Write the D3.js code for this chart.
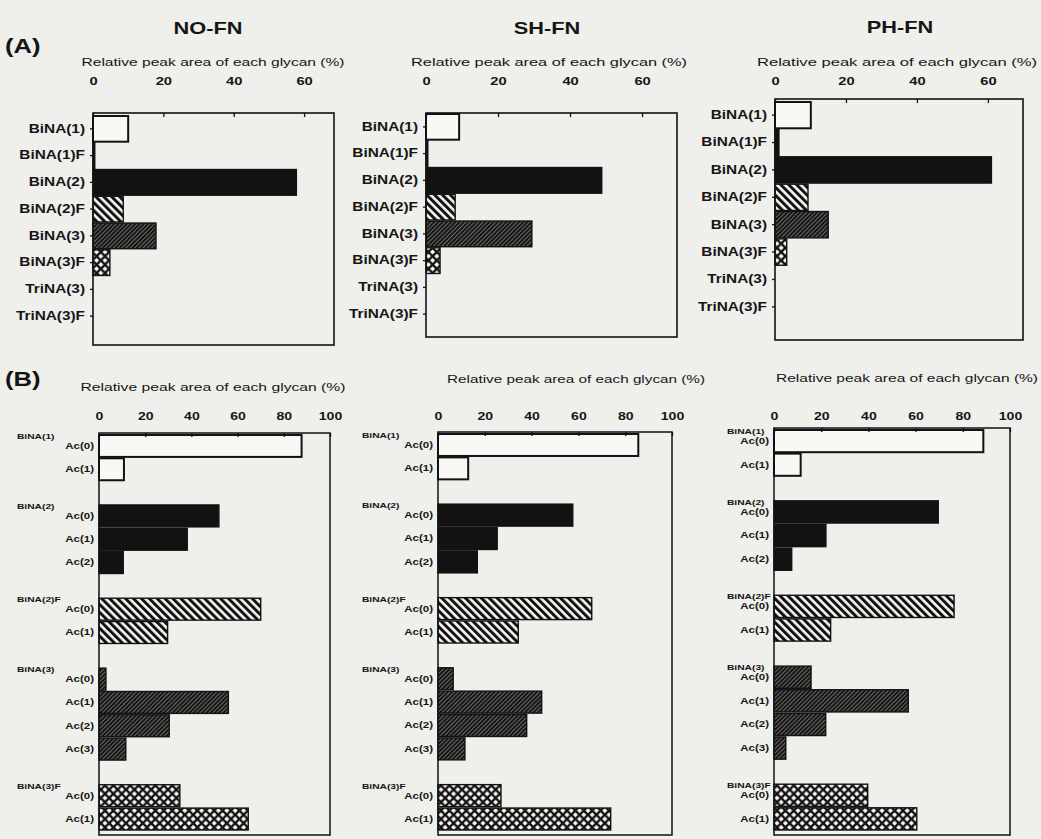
<!DOCTYPE html>
<html>
<head>
<meta charset="utf-8">
<script src="https://cdn.jsdelivr.net/npm/d3@7"></script>
<style>
  html, body { margin: 0; padding: 0; background: #efefec; }
  svg { display: block; }
  text { font-family: "Liberation Sans", Arial, Helvetica, sans-serif; fill: #151515; }
</style>
</head>
<body>
<svg id="fig" width="1041" height="839"></svg>
<script>
// ---------------- data ----------------
const sites = ["NO-FN", "SH-FN", "PH-FN"];

// (A) relative peak area of each N-glycan (%)
const glycansA = ["BiNA(1)", "BiNA(1)F", "BiNA(2)", "BiNA(2)F", "BiNA(3)", "BiNA(3)F", "TriNA(3)", "TriNA(3)F"];
const areaNO = [10.0, 0.5, 57.8, 8.6, 17.9, 4.8, 0, 0];
const areaSH = [9.2, 0.5, 48.8, 8.1, 29.4, 3.9, 0, 0];
const areaPH = [10.1, 1.1, 61.0, 9.3, 15.0, 3.3, 0, 0];
const ticksA = [0, 20, 40, 60];

// (B) acetylation distribution within each glycan (%)
const groupsB = ["BiNA(1)", "BiNA(2)", "BiNA(2)F", "BiNA(3)", "BiNA(3)F"];
const acetylB = [
  ["Ac(0)", "Ac(1)"],
  ["Ac(0)", "Ac(1)", "Ac(2)"],
  ["Ac(0)", "Ac(1)"],
  ["Ac(0)", "Ac(1)", "Ac(2)", "Ac(3)"],
  ["Ac(0)", "Ac(1)"]
];
const acNO = [[87.7, 10.8], [51.9, 38.2, 10.5], [70.0, 29.7], [3.0, 56.0, 30.4, 11.6], [35.0, 64.6]];
const acSH = [[85.6, 12.9], [57.6, 25.3, 16.8], [65.7, 34.3], [6.5, 44.3, 37.9, 11.5], [26.9, 73.8]];
const acPH = [[88.7, 11.3], [69.6, 22.0, 7.5], [76.3, 24.0], [15.7, 56.9, 21.9, 5.0], [39.7, 60.5]];
const ticksB = [0, 20, 40, 60, 80, 100];

const axisTitle = "Relative peak area of each glycan (%)";

// ---------------- layout & style ----------------
const SX = 1.28; // horizontal stretch applied to glyphs
const INK = "#121212";

const layoutA = [
  { x0: 93,  x1: 334,  top: 113, bottom: 345, y0: 116, y1: 329, max: 68.5, titleCx: 213, titleW: 263, headX: 208, headY: 34 },
  { x0: 426, x1: 677,  top: 113, bottom: 337, y0: 114, y1: 327, max: 69.7, titleCx: 549, titleW: 276, headX: 547, headY: 34 },
  { x0: 775, x1: 1023, top: 99,  bottom: 340, y0: 102, y1: 320, max: 69.9, titleCx: 897, titleW: 280, headX: 900, headY: 33 }
];
const layoutB = [
  { x0: 99,  x1: 330,  top: 433, bottom: 835, y0: 435, y1: 830, titleCx: 213, titleW: 265, titleY: 391, groupDx: -82 },
  { x0: 438, x1: 672,  top: 432, bottom: 835, y0: 434, y1: 830, titleCx: 576, titleW: 258, titleY: 383, groupDx: -76 },
  { x0: 774, x1: 1010, top: 428, bottom: 835, y0: 430, y1: 830, titleCx: 907, titleW: 262, titleY: 382, groupDx: -47 }
];

const fillOf = {
  "BiNA(1)": "#f8f8f5",
  "BiNA(1)F": INK,
  "BiNA(2)": INK,
  "BiNA(2)F": "url(#stripes)",
  "BiNA(3)": "url(#hatch)",
  "BiNA(3)F": "url(#cross)",
  "TriNA(3)": "url(#cross)",
  "TriNA(3)F": INK
};

const svg = d3.select("#fig");
svg.append("rect").attr("width", 1041).attr("height", 839).attr("fill", "#efefec");

// ---------------- fill patterns ----------------
const defs = svg.append("defs");
// wide "\" stripes
const pStr = defs.append("pattern").attr("id", "stripes").attr("patternUnits", "userSpaceOnUse")
  .attr("width", 5.6).attr("height", 5.6).attr("patternTransform", "rotate(-45)");
pStr.append("rect").attr("width", 5.6).attr("height", 5.6).attr("fill", "#f8f8f5");
pStr.append("rect").attr("width", 3.0).attr("height", 5.6).attr("fill", INK);
// dense dark "/" hatch
const pHat = defs.append("pattern").attr("id", "hatch").attr("patternUnits", "userSpaceOnUse")
  .attr("width", 3.0).attr("height", 3.0).attr("patternTransform", "rotate(45)");
pHat.append("rect").attr("width", 3.0).attr("height", 3.0).attr("fill", "#161616");
pHat.append("rect").attr("width", 0.7).attr("height", 3.0).attr("fill", "#8c8c88");
// diamond cross-hatch
const CP = 8.4;
const pCr = defs.append("pattern").attr("id", "cross").attr("patternUnits", "userSpaceOnUse")
  .attr("width", CP).attr("height", CP);
pCr.append("rect").attr("width", CP).attr("height", CP).attr("fill", "#f8f8f5");
pCr.append("path").attr("d", `M-1,-1L${CP + 1},${CP + 1}M${CP + 1},-1L-1,${CP + 1}`)
  .attr("stroke", INK).attr("stroke-width", 2.4).attr("fill", "none");

// ---------------- helpers ----------------
function stretch(sel) {
  sel.each(function () {
    const t = d3.select(this);
    const x = +(t.attr("x") || 0);
    t.attr("transform", `translate(${x},0) scale(${SX},1) translate(${-x},0)`);
  });
}
function plainText(g, x, y, str, size, weight, anchor) {
  const t = g.append("text").attr("x", x).attr("y", y).attr("font-size", size)
    .attr("font-weight", weight || "normal").attr("text-anchor", anchor || "start").text(str);
  stretch(t);
  return t;
}
function fitText(g, cx, y, str, size, width) {
  return g.append("text").attr("x", cx).attr("y", y).attr("font-size", size)
    .attr("text-anchor", "middle").attr("textLength", width)
    .attr("lengthAdjust", "spacingAndGlyphs").text(str);
}
function styleAxis(ax, size, weight) {
  ax.attr("font-size", null).attr("font-family", null);
  ax.select(".domain").remove();
  ax.selectAll("line").attr("stroke", INK).attr("stroke-width", 1.3);
  ax.selectAll("text").attr("font-size", size).attr("font-weight", weight || "normal").attr("fill", "#151515");
  stretch(ax.selectAll("text"));
}

// ---------------- panel (A) ----------------
plainText(svg, 5, 53, "(A)", 20, "bold");

function drawA(L, site, values) {
  const g = svg.append("g");
  const x = d3.scaleLinear().domain([0, L.max]).range([L.x0, L.x1]);
  const y = d3.scaleBand().domain(glycansA).range([L.y0, L.y1]).paddingInner(0.04);

  plainText(g, L.headX, L.headY, site, 17, "bold", "middle");
  fitText(g, L.titleCx, 66, axisTitle, 11.5, L.titleW);

  const rows = glycansA.map((k, i) => ({ k, v: values[i] }));
  g.selectAll("rect.bar").data(rows).join("rect").attr("class", "bar")
    .attr("x", x(0)).attr("y", d => y(d.k))
    .attr("width", d => x(d.v) - x(0)).attr("height", y.bandwidth())
    .attr("fill", d => fillOf[d.k])
    .attr("stroke", d => d.v > 0 ? INK : "none")
    .attr("stroke-width", d => d.k === "BiNA(1)" ? 2 : 1.4);

  g.append("rect").attr("x", L.x0).attr("y", L.top)
    .attr("width", L.x1 - L.x0).attr("height", L.bottom - L.top)
    .attr("fill", "none").attr("stroke", INK).attr("stroke-width", 1.6);

  const ax = g.append("g").attr("transform", `translate(0,${L.top})`)
    .call(d3.axisTop(x).tickValues(ticksA).tickSizeInner(-4).tickSizeOuter(0).tickPadding(L.top - 85));
  styleAxis(ax, 11.5, "bold");

  const ay = g.append("g").attr("transform", `translate(${L.x0},0)`)
    .call(d3.axisLeft(y).tickSize(3).tickPadding(5));
  styleAxis(ay, 12, "bold");
}
drawA(layoutA[0], sites[0], areaNO);
drawA(layoutA[1], sites[1], areaSH);
drawA(layoutA[2], sites[2], areaPH);

// ---------------- panel (B) ----------------
plainText(svg, 5, 386, "(B)", 20, "bold");

// row keys: one per glycan/acetylation pair, with a blank row between glycans
const rowKeys = [];
groupsB.forEach((gName, gi) => {
  acetylB[gi].forEach(a => rowKeys.push(gName + "|" + a));
  if (gi < groupsB.length - 1) rowKeys.push("gap" + gi);
});

function drawB(L, values) {
  const g = svg.append("g");
  const x = d3.scaleLinear().domain([0, 100]).range([L.x0, L.x1]);
  const y = d3.scaleBand().domain(rowKeys).range([L.y0, L.y1]).paddingInner(0.06);

  fitText(g, L.titleCx, L.titleY, axisTitle, 11.5, L.titleW);

  const rows = [];
  groupsB.forEach((gName, gi) => acetylB[gi].forEach((a, ai) =>
    rows.push({ key: gName + "|" + a, grp: gName, v: values[gi][ai] })));

  g.selectAll("rect.bar").data(rows).join("rect").attr("class", "bar")
    .attr("x", x(0)).attr("y", d => y(d.key))
    .attr("width", d => x(d.v) - x(0)).attr("height", y.bandwidth())
    .attr("fill", d => fillOf[d.grp])
    .attr("stroke", INK)
    .attr("stroke-width", d => d.grp === "BiNA(1)" ? 2 : 1.4);

  g.append("rect").attr("x", L.x0).attr("y", L.top)
    .attr("width", L.x1 - L.x0).attr("height", L.bottom - L.top)
    .attr("fill", "none").attr("stroke", INK).attr("stroke-width", 1.5);

  const ax = g.append("g").attr("transform", `translate(0,${L.top})`)
    .call(d3.axisTop(x).tickValues(ticksB).tickSizeInner(-4).tickSizeOuter(0).tickPadding(L.top - 420));
  styleAxis(ax, 11, "bold");

  const ay = g.append("g").attr("transform", `translate(${L.x0},0)`)
    .call(d3.axisLeft(y).tickValues(rows.map(r => r.key)).tickFormat(k => k.split("|")[1])
      .tickSize(0).tickPadding(5));
  styleAxis(ay, 9, "bold");

  // glycan name above its first acetylation row
  groupsB.forEach((gName, gi) => {
    const k = gName + "|" + acetylB[gi][0];
    plainText(g, L.x0 + L.groupDx, y(k) + y.bandwidth() / 2 - 7, gName, 8, "bold", "start");
  });
}
drawB(layoutB[0], acNO);
drawB(layoutB[1], acSH);
drawB(layoutB[2], acPH);
</script>
</body>
</html>
